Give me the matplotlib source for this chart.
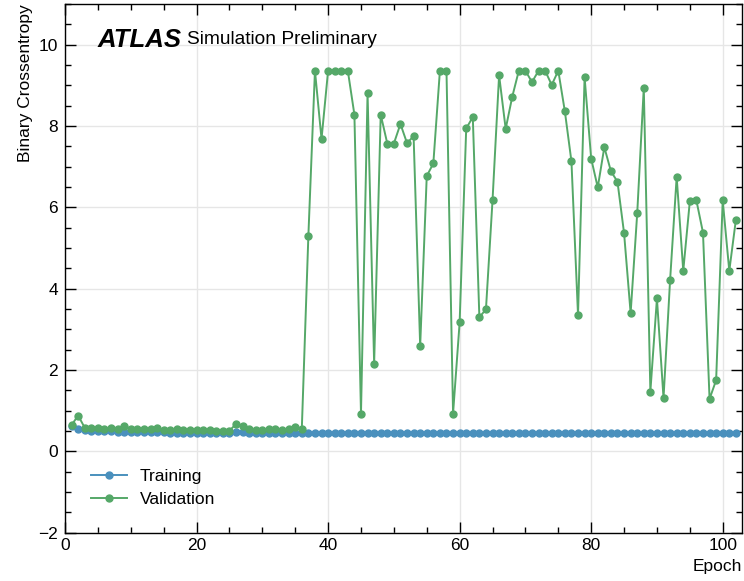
import matplotlib
matplotlib.use("Agg")
import matplotlib.pyplot as plt
from matplotlib.ticker import MultipleLocator

plt.rcParams["font.family"] = ["Liberation Sans", "DejaVu Sans"]

epochs = list(range(1, 103))

training_loss = [
    0.62, 0.55, 0.52, 0.51, 0.50, 0.49, 0.49, 0.48, 0.48, 0.48,
    0.47, 0.47, 0.47, 0.47, 0.47, 0.46, 0.46, 0.46, 0.46, 0.46,
    0.46, 0.46, 0.46, 0.45, 0.45, 0.47, 0.47, 0.46, 0.46, 0.46,
    0.46, 0.46, 0.46, 0.46, 0.46, 0.46, 0.46, 0.46, 0.46, 0.46,
    0.46, 0.46, 0.46, 0.46, 0.46, 0.46, 0.46, 0.46, 0.45, 0.45,
    0.45, 0.45, 0.45, 0.45, 0.45, 0.45, 0.45, 0.45, 0.45, 0.45,
    0.45, 0.45, 0.45, 0.45, 0.45, 0.46, 0.46, 0.46, 0.46, 0.46,
    0.46, 0.46, 0.46, 0.46, 0.46, 0.46, 0.46, 0.46, 0.46, 0.46,
    0.45, 0.45, 0.45, 0.45, 0.45, 0.45, 0.45, 0.45, 0.45, 0.45,
    0.45, 0.45, 0.45, 0.45, 0.45, 0.45, 0.45, 0.45, 0.45, 0.45,
    0.45, 0.45,
]

validation_loss = [
    0.65, 0.88, 0.58, 0.57, 0.57, 0.56, 0.57, 0.55, 0.63, 0.55,
    0.55, 0.55, 0.55, 0.58, 0.53, 0.52, 0.54, 0.53, 0.52, 0.52,
    0.52, 0.52, 0.51, 0.51, 0.51, 0.67, 0.62, 0.54, 0.53, 0.53,
    0.54, 0.54, 0.53, 0.54, 0.60, 0.54, 5.30, 9.36, 7.68, 9.36,
    9.36, 9.36, 9.36, 8.28, 0.93, 8.81, 2.16, 8.28, 7.57, 7.57,
    8.05, 7.58, 7.75, 2.59, 6.77, 7.08, 9.36, 9.36, 0.93, 3.17,
    7.94, 8.22, 3.30, 3.49, 6.17, 9.25, 7.93, 8.72, 9.36, 9.36,
    9.08, 9.36, 9.36, 9.01, 9.36, 8.36, 7.13, 3.35, 9.20, 7.20,
    6.49, 7.48, 6.89, 6.63, 5.37, 3.40, 5.85, 8.94, 1.47, 3.76,
    1.31, 4.21, 6.75, 4.44, 6.15, 6.17, 5.38, 1.29, 1.75, 6.17,
    4.44, 5.69,
]

fig = plt.figure(figsize=(7.44, 5.81), dpi=100)
ax = fig.add_axes([0.0874, 0.0831, 0.9105, 0.9100])

ax.plot(epochs, training_loss, "-o", color="#4a90bd", lw=1.4, ms=5.0,
        label="Training")
ax.plot(epochs, validation_loss, "-o", color="#55a868", lw=1.4, ms=5.0,
        label="Validation")

ax.set_xlim(0, 103)
ax.set_ylim(-2, 11)
ax.xaxis.set_major_locator(MultipleLocator(20))
ax.xaxis.set_minor_locator(MultipleLocator(5))
ax.yaxis.set_major_locator(MultipleLocator(2))
ax.yaxis.set_minor_locator(MultipleLocator(0.5))
ax.tick_params(which="both", direction="in", top=True, right=True,
               labelsize=12.5)
ax.tick_params(which="major", length=8, width=1)
ax.tick_params(which="minor", length=4.3, width=1)
ax.tick_params(axis="x", pad=4)
ax.tick_params(axis="y", pad=5)
ax.grid(True, which="major", color="#e6e6e6", lw=1)
ax.set_axisbelow(True)
for sp in ax.spines.values():
    sp.set_linewidth(1.0)

ax.set_xlabel("Epoch", fontsize=12.5, loc="right")
ax.set_ylabel("Binary Crossentropy", fontsize=12.5, loc="top")

ax.text(0.048, 0.932, "ATLAS", transform=ax.transAxes, fontsize=18.5,
        fontweight="bold", fontstyle="italic", va="center")
ax.text(0.180, 0.932, "Simulation Preliminary", transform=ax.transAxes,
        fontsize=13.8, va="center")

ax.legend(loc="lower left", bbox_to_anchor=(0.015, 0.019), frameon=False,
          fontsize=12.5, handlelength=2.1, handletextpad=0.7,
          labelspacing=0.45)

fig.savefig("out.png", dpi=100)
